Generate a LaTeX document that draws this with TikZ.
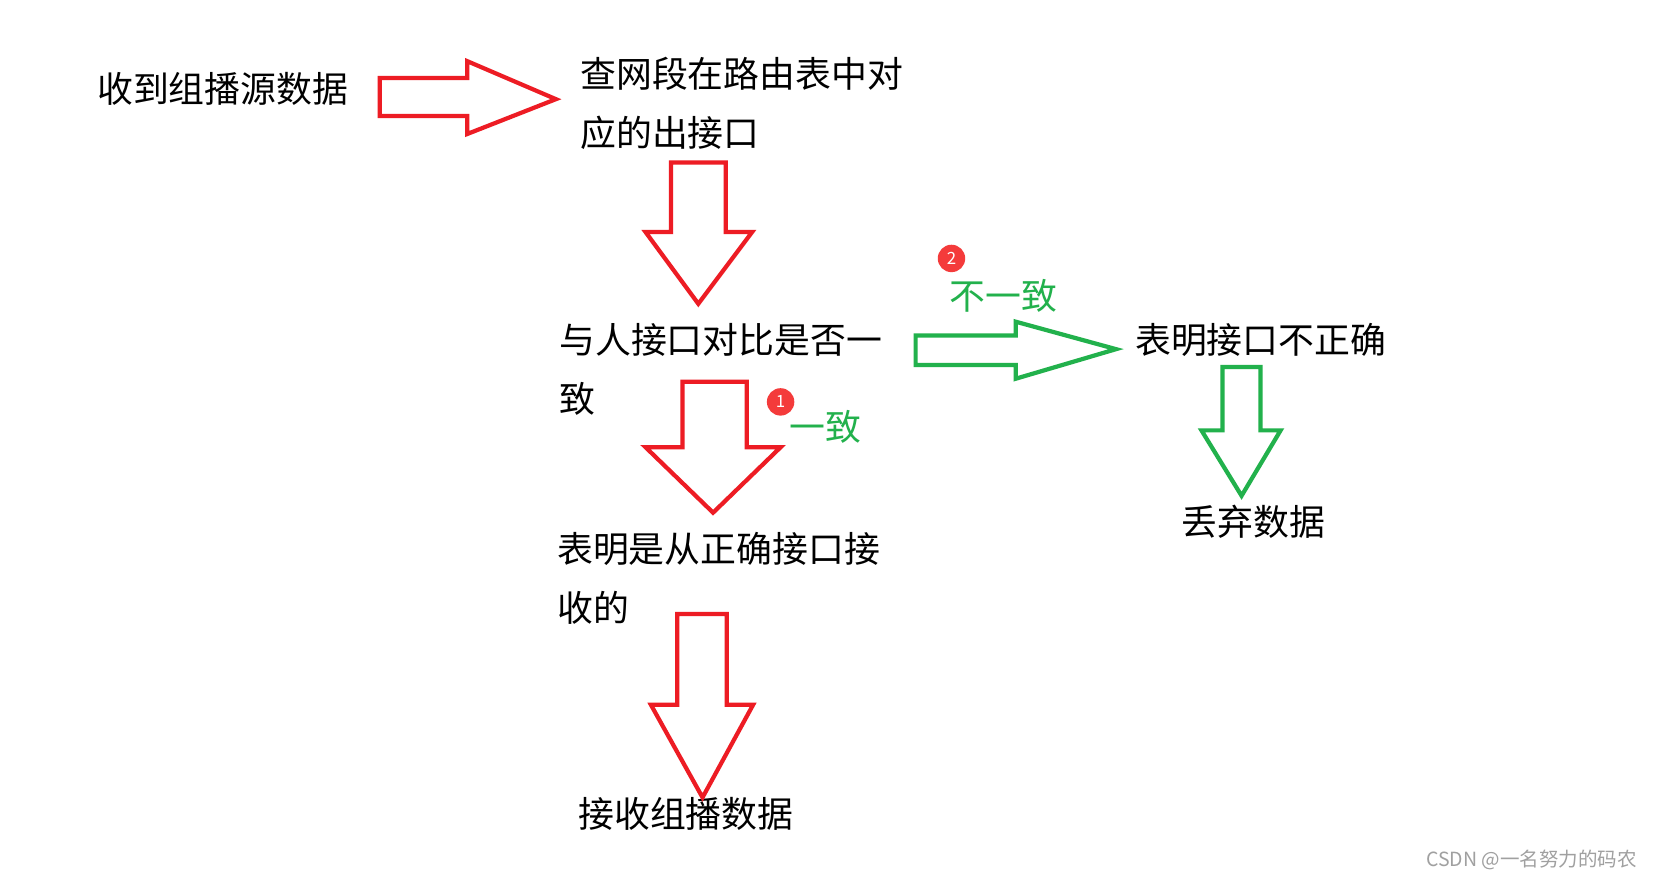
\documentclass[tikz,border=0pt]{standalone}
\usepackage{fontspec}
\setmainfont{Noto Sans CJK SC}
\definecolor{pred}{HTML}{ED1C24}
\definecolor{pgreen}{HTML}{22B14C}
\definecolor{badge}{HTML}{F43B3B}
\definecolor{wm}{HTML}{A0A0A0}
\begin{document}
\begin{tikzpicture}[x=1pt,y=-1pt,
  lbl/.style={anchor=base west,inner sep=0pt,align=left,font=\fontsize{34}{56}\selectfont},
  glbl/.style={lbl,text=pgreen},
  redarrow/.style={draw=pred,line width=4pt,line join=miter},
  greenarrow/.style={draw=pgreen,line width=4pt,line join=miter},
  badgec/.style={circle,fill=badge,minimum size=26pt,inner sep=0pt,text=white,font=\fontsize{16}{16}\selectfont}]
\useasboundingbox (0,0) rectangle (1568,834);
\fill[white] (0,0) rectangle (1568,834);
% texts
\node[lbl] (recv) at (92,97) {收到组播源数据};
\node[lbl] (lookup) at (550,139) {查网段在路由表中对\\应的出接口};
\node[lbl] (cmp) at (530,391) {与人接口对比是否一\\致};
\node[lbl] (ok) at (528,589) {表明是从正确接口接\\收的};
\node[lbl] (accept) at (548,784) {接收组播数据};
\node[lbl] (bad) at (1076,335) {表明接口不正确};
\node[lbl] (drop) at (1120,508) {丢弃数据};
\node[glbl] (same) at (748,418) {一致};
\node[glbl] (diff) at (900,293) {不一致};
\node[badgec] (b1) at (740,381) {1};
\node[badgec] (b2) at (902,245) {2};
\node[anchor=base east,inner sep=0pt,text=wm,font=\fontsize{18.5}{18.5}\selectfont] (wmk) at (1552,821) {CSDN @一名努力的码农};
% red arrows
\draw[redarrow] (360,74) -- (443,74) -- (443,58) -- (527,94) -- (443,127) -- (443,110) -- (360,110) -- cycle;
\draw[redarrow] (636,154) -- (688,154) -- (688,220) -- (713,220) -- (662,288) -- (612,220) -- (636,220) -- cycle;
\draw[redarrow] (647,362) -- (708,362) -- (708,424) -- (740,424) -- (676,486) -- (612,424) -- (647,424) -- cycle;
\draw[redarrow] (642,582) -- (689,582) -- (689,668) -- (714,668) -- (666,756) -- (617,668) -- (642,668) -- cycle;
% green arrows
\draw[greenarrow] (868,318) -- (963,318) -- (963,305) -- (1058,331) -- (963,359) -- (963,346) -- (868,346) -- cycle;
\draw[greenarrow] (1159,348) -- (1195,348) -- (1195,408) -- (1214,408) -- (1177,470) -- (1139,408) -- (1159,408) -- cycle;
\end{tikzpicture}
\end{document}
